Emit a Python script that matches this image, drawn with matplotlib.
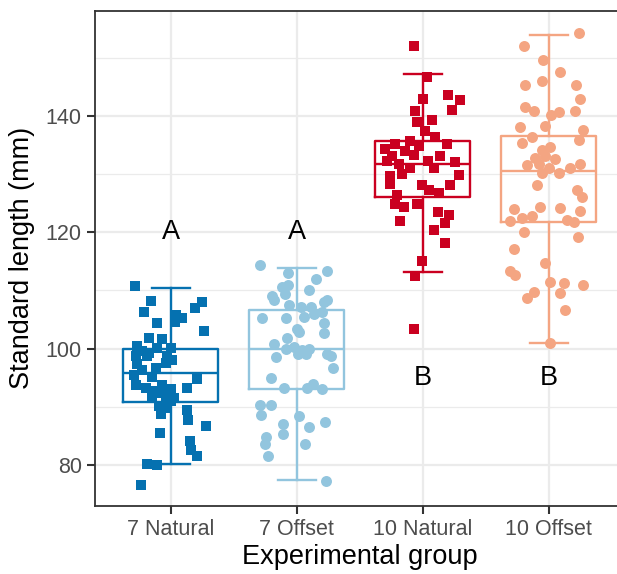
import numpy as np
import matplotlib.pyplot as plt

groups = ['7 Natural', '7 Offset', '10 Natural', '10 Offset']
colors = ['#0571B0', '#92C5DE', '#CA0020', '#F4A582']
markers = ['s', 'o', 's', 'o']
letters = ['A', 'A', 'B', 'B']
letter_y = [120, 120, 95, 95]

# box statistics
q1 = [90.8, 93.1, 126.1, 121.7]
med = [95.8, 100.0, 131.7, 130.5]
q3 = [100.0, 106.6, 135.7, 136.5]
whislo = [80.1, 77.4, 113.1, 100.9]
whishi = [110.4, 113.8, 147.2, 153.9]

# jittered points: horizontal offset from group centre and length (mm)
nat7_dx = [-0.283, -0.159, -0.212, -0.106, 0.04, 0.093, 0.193, 0.246, 0.034, 0.265,
           -0.172, -0.071, -0.265, 0.0, -0.225, -0.278, -0.185, -0.026, -0.265, -0.119,
           -0.04, -0.291, 0.212, 0.132, -0.278, -0.198, -0.119, -0.066, 0.0, -0.146,
           -0.04, 0.026, -0.093, -0.079, -0.026, 0.132, 0.14, 0.278, -0.087, 0.151,
           0.159, 0.212, -0.185, -0.106, -0.238, -0.23, -0.146, 0.013, -0.106, -0.172,
           -0.066, 0.0]
nat7_y = [110.7, 108.1, 106.2, 104.4, 105.8, 105.3, 107.0, 108.0, 104.5, 103.0,
          101.8, 101.7, 100.4, 100.1, 99.5, 98.7, 98.8, 98.7, 97.3, 96.6,
          97.5, 95.5, 94.7, 93.2, 93.8, 93.2, 92.7, 93.8, 93.0, 91.8,
          91.5, 91.5, 90.1, 88.7, 89.8, 89.5, 87.8, 86.7, 85.5, 84.1,
          82.6, 81.5, 80.2, 80.0, 76.6, 96.4, 95.2, 98.1, 100.1, 99.3,
          92.4, 91.0]

off7_dx = [-0.291, -0.066, 0.243, 0.151, -0.119, -0.066, 0.098, -0.198, -0.18, -0.095,
           0.217, 0.243, -0.061, 0.032, 0.111, 0.204, -0.272, -0.087, 0.058, 0.138,
           0.217, 0.217, 0.005, 0.019, -0.079, -0.18, -0.087, -0.021, 0.045, 0.098,
           -0.167, 0.013, 0.071, 0.243, 0.27, 0.291, -0.206, -0.101, 0.079, 0.132,
           0.204, -0.291, -0.206, -0.286, 0.019, -0.106, -0.106, 0.098, 0.222, -0.246,
           -0.254, 0.063, -0.225, 0.233]
off7_y = [114.3, 113.0, 113.3, 111.9, 110.6, 110.9, 110.1, 109.0, 108.3, 109.3,
          108.0, 108.3, 107.4, 107.2, 107.2, 106.3, 105.3, 105.2, 105.4, 106.0,
          104.4, 102.6, 103.4, 102.9, 101.9, 100.7, 100.0, 100.3, 99.7, 100.0,
          98.6, 99.1, 99.0, 99.0, 98.7, 96.6, 95.0, 93.3, 93.3, 93.9,
          93.0, 90.3, 90.3, 88.5, 88.4, 87.0, 85.3, 86.5, 87.4, 84.8,
          83.6, 83.6, 81.5, 77.3]

nat10_dx = [-0.071, 0.034, 0.201, 0.299, 0.003, 0.233, -0.063, -0.045, 0.074, 0.021,
            0.095, 0.193, -0.217, -0.098, -0.296, -0.138, -0.243, -0.071, 0.042, 0.14,
            0.259, -0.19, -0.098, 0.286, -0.257, -0.164, -0.257, -0.005, 0.22, 0.048,
            0.127, -0.204, -0.045, -0.217, -0.151, 0.122, 0.212, 0.18, -0.177, 0.087,
            0.18, -0.005, -0.058, -0.071, -0.283, -0.032, 0.087]
nat10_y = [152.0, 146.6, 143.6, 142.7, 142.9, 141.0, 140.9, 138.9, 139.3, 137.4,
           136.4, 135.1, 135.1, 135.7, 134.3, 134.0, 133.1, 133.3, 132.3, 133.1,
           132.0, 131.7, 131.1, 129.9, 129.7, 130.0, 128.3, 128.1, 128.1, 127.2,
           126.8, 126.4, 124.8, 124.9, 124.4, 123.4, 123.0, 121.5, 122.0, 120.4,
           118.2, 115.1, 112.5, 103.3, 132.3, 134.8, 131.1]

off10_dx = [0.238, -0.198, -0.045, 0.093, -0.185, -0.053, 0.22, 0.251, -0.19, -0.119,
            0.019, 0.079, 0.206, -0.026, -0.23, 0.272, -0.212, -0.132, 0.238, -0.053,
            0.013, -0.106, -0.026, 0.053, -0.172, -0.079, 0.0, -0.053, 0.079, 0.172,
            0.251, -0.093, 0.225, 0.265, -0.066, 0.093, 0.251, -0.278, -0.304, -0.212,
            -0.132, 0.146, 0.198, -0.198, 0.23, -0.272, -0.026, -0.31, -0.27, 0.013,
            0.119, 0.087, 0.27, -0.119, -0.172, 0.127, 0.008]
off10_y = [154.2, 151.9, 149.6, 147.6, 145.3, 145.9, 145.2, 142.8, 141.5, 140.8,
           140.1, 140.7, 140.8, 138.3, 138.0, 137.6, 135.4, 136.3, 135.8, 134.2,
           134.6, 132.8, 133.1, 132.5, 131.5, 131.7, 131.1, 130.2, 130.1, 131.1,
           131.7, 128.1, 127.2, 126.0, 124.4, 124.2, 123.7, 124.0, 122.0, 122.5,
           122.8, 122.1, 121.7, 120.0, 119.1, 117.1, 114.7, 113.4, 112.7, 111.4,
           111.3, 109.5, 111.0, 109.7, 108.7, 106.7, 101.0]

point_dx = [nat7_dx, off7_dx, nat10_dx, off10_dx]
point_y = [nat7_y, off7_y, nat10_y, off10_y]

plt.rcParams['font.family'] = ['Liberation Sans', 'DejaVu Sans']

fig = plt.figure(figsize=(6.17, 5.74), dpi=100)
ax = fig.add_axes([95 / 617, 68 / 574, 529.2 / 617, 495.3 / 574])

pos = np.arange(1, len(groups) + 1)
for i in range(len(groups)):
    stats = [dict(q1=q1[i], med=med[i], q3=q3[i], whislo=whislo[i], whishi=whishi[i])]
    c = colors[i]
    ax.bxp(stats, positions=[pos[i]], widths=0.75, capwidths=0.3, showfliers=False,
           boxprops=dict(color=c, linewidth=1.7),
           medianprops=dict(color=c, linewidth=1.7),
           whiskerprops=dict(color=c, linewidth=1.7),
           capprops=dict(color=c, linewidth=1.7),
           manage_ticks=False, zorder=2)
    ax.plot(pos[i] + np.array(point_dx[i]), point_y[i], linestyle='none',
            marker=markers[i], color=c, markersize=7.4 if markers[i] == 's' else 7.9,
            markeredgewidth=0, zorder=3)
    ax.text(pos[i], letter_y[i], letters[i], ha='center', va='center',
            fontsize=19.5, color='black', zorder=4)

ax.set_xlim(0.4, 4.6)
ax.set_ylim(72.95, 158.05)
ax.set_xticks(pos)
ax.set_xticklabels(groups)
ax.set_yticks([80, 100, 120, 140])
ax.set_yticks([90, 110, 130, 150], minor=True)

ax.grid(True, which='major', color='#EBEBEB', linewidth=1.6, zorder=0)
ax.grid(True, which='minor', axis='y', color='#EBEBEB', linewidth=0.9, zorder=0)
ax.set_axisbelow(True)

ax.tick_params(axis='both', which='major', length=5.5, width=1.5, color='#333333',
               labelsize=15.5, labelcolor='#4D4D4D', pad=4)
ax.tick_params(axis='both', which='minor', length=0)
for sp in ax.spines.values():
    sp.set_color('#333333')
    sp.set_linewidth(1.3)

ax.set_xlabel('Experimental group', fontsize=19.5, labelpad=3)
ax.set_ylabel('Standard length (mm)', fontsize=19.5, labelpad=8)

fig.savefig('out.png', dpi=100)
